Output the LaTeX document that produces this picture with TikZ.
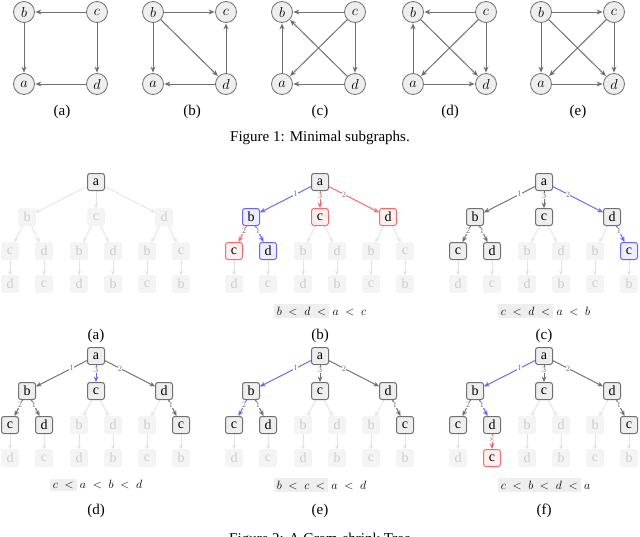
\documentclass[tikz,border=0pt]{standalone}
\usepackage{fontspec}
\setmainfont{Liberation Serif}
\usetikzlibrary{arrows.meta}
\definecolor{eg}{HTML}{707070}
\definecolor{fadf}{HTML}{F4F4F4}
\definecolor{fadd}{HTML}{EAEAEA}
\definecolor{fadt}{HTML}{CCCCCC}
\definecolor{fade}{HTML}{E2E2E2}
\definecolor{actf}{HTML}{EEEEEE}
\definecolor{bl}{HTML}{6666FF}
\definecolor{blf}{HTML}{EEEEFF}
\definecolor{rd}{HTML}{FF6666}
\definecolor{rdf}{HTML}{FFF0F0}
\definecolor{hlg}{HTML}{EEEEEE}
\tikzset{
 cnode/.style={circle,draw=eg,fill=actf,minimum size=21pt,inner sep=0,line width=0.8pt,font=\fontsize{14}{14}\selectfont},
 cedge/.style={draw=eg,line width=1pt,-{Stealth[length=6pt,width=5pt]},shorten >=0.5pt},
 tn/.style={rounded corners=2.5pt,minimum size=17pt,inner sep=0,font=\fontsize{14}{14}\selectfont},
 fad/.style={tn,fill=fadf,draw=fadd,text=fadt},
 act/.style={tn,fill=actf,draw=eg,line width=1pt},
 blu/.style={tn,fill=blf,draw=bl,line width=1pt},
 red/.style={tn,fill=rdf,draw=rd,line width=1pt},
 fe/.style={draw=fade,line width=0.8pt,-{Stealth[length=4.5pt,width=4pt]}},
 ae/.style={draw=eg,line width=0.9pt,-{Stealth[length=5.5pt,width=4.5pt]}},
 be/.style={ae,draw=bl},
 re/.style={ae,draw=rd},
 lab/.style={pos=0.3,fill=white,inner sep=0.3pt,font=\fontsize{8}{8}\selectfont,text=eg},
 captxt/.style={font=\fontsize{15}{17}\selectfont},
 ord/.style={font=\fontsize{13}{15}\selectfont},
}
\newcommand\ftree[3]{%
 \node[fad] (#1r) at (#2,#3) {a};
 \node[fad] (#1b) at (#2-69,#3+35) {b};
 \node[fad] (#1c) at (#2,#3+35) {c};
 \node[fad] (#1d) at (#2+68,#3+35) {d};
 \node[fad] (#1bc) at (#2-86,#3+69) {c};
 \node[fad] (#1bd) at (#2-52,#3+69) {d};
 \node[fad] (#1cb) at (#2-17,#3+69) {b};
 \node[fad] (#1cd) at (#2+17,#3+69) {d};
 \node[fad] (#1db) at (#2+51,#3+69) {b};
 \node[fad] (#1dc) at (#2+85,#3+69) {c};
 \node[fad] (#1bcd) at (#2-86,#3+102) {d};
 \node[fad] (#1bdc) at (#2-52,#3+102) {c};
 \node[fad] (#1cbd) at (#2-17,#3+102) {d};
 \node[fad] (#1cdb) at (#2+17,#3+102) {b};
 \node[fad] (#1dbc) at (#2+51,#3+102) {c};
 \node[fad] (#1dcb) at (#2+85,#3+102) {b};
 \foreach \s/\t in {r/b,r/c,r/d,b/bc,b/bd,c/cb,c/cd,d/db,d/dc,bc/bcd,bd/bdc,cb/cbd,cd/cdb,db/dbc,dc/dcb}
   {\draw[fe] (#1\s) -- (#1\t);}
}
\begin{document}
\begin{tikzpicture}[x=1pt,y=-1pt]
\useasboundingbox (0,0) rectangle (640,536);
% Figure 1
\foreach \p/\x in {A/24,B/153,C/282,D/413,E/541}{
 \node[cnode] (\p b) at (\x,12) {$b$};
 \node[cnode] (\p c) at (\x+73,12) {$c$};
 \node[cnode] (\p a) at (\x,84) {$a$};
 \node[cnode] (\p d) at (\x+73,84) {$d$};
}
\foreach \s/\t in {Ac/Ab,Ab/Aa,Ac/Ad,Ad/Aa,
 Bb/Bc,Bb/Ba,Bb/Bd,Bd/Bc,Bd/Ba,
 Cc/Cb,Ca/Cb,Cc/Cd,Cd/Ca,Cc/Ca,Cd/Cb,
 Dc/Db,Da/Db,Dc/Dd,Da/Dd,Dc/Da,Db/Dd,
 Eb/Ec,Eb/Ea,Ec/Ed,Ea/Ed,Ec/Ea,Eb/Ed}
 {\draw[cedge] (\s) -- (\t);}
\foreach \l/\x in {a/62,b/192,c/320,d/450,e/578}{\node[captxt] (l1\l) at (\x,112) {(\l)};}
\node[captxt] (f1) at (320,138) {Figure 1: Minimal subgraphs.};
% Figure 2 trees
\ftree{A}{96}{182}
\ftree{B}{320}{182}
\ftree{C}{544}{182}
\ftree{D}{96}{356}
\ftree{E}{320}{356}
\ftree{F}{544}{356}
% (a)
\node[act] (Ar) at (Ar) {a};
% (b)
\node[act] (Br) at (Br) {a};
\node[blu] (Bb) at (Bb) {b}; \node[red] (Bc) at (Bc) {c}; \node[red] (Bd) at (Bd) {d};
\node[red] (Bbc) at (Bbc) {c}; \node[blu] (Bbd) at (Bbd) {d};
\draw[be] (Br) -- node[lab]{1} (Bb);
\draw[re] (Br) -- node[lab]{3} (Bc);
\draw[re] (Br) -- node[lab]{2} (Bd);
\draw[re] (Bb) -- node[lab]{2} (Bbc);
\draw[be] (Bb) -- node[lab]{1} (Bbd);
% (c)
\node[act] (Cr) at (Cr) {a};
\node[act] (Cb) at (Cb) {b}; \node[act] (Cc) at (Cc) {c}; \node[act] (Cd) at (Cd) {d};
\node[act] (Cbc) at (Cbc) {c}; \node[act] (Cbd) at (Cbd) {d}; \node[blu] (Cdc) at (Cdc) {c};
\draw[ae] (Cr) -- node[lab]{1} (Cb);
\draw[ae] (Cr) -- node[lab]{3} (Cc);
\draw[be] (Cr) -- node[lab]{2} (Cd);
\draw[ae] (Cb) -- node[lab]{2} (Cbc);
\draw[ae] (Cb) -- node[lab]{1} (Cbd);
\draw[be] (Cd) -- node[lab]{1} (Cdc);
% (d)
\node[act] (Dr) at (Dr) {a};
\node[act] (Db) at (Db) {b}; \node[act] (Dc) at (Dc) {c}; \node[act] (Dd) at (Dd) {d};
\node[act] (Dbc) at (Dbc) {c}; \node[act] (Dbd) at (Dbd) {d}; \node[act] (Ddc) at (Ddc) {c};
\draw[ae] (Dr) -- node[lab]{1} (Db);
\draw[be] (Dr) -- node[lab]{3} (Dc);
\draw[ae] (Dr) -- node[lab]{2} (Dd);
\draw[ae] (Db) -- node[lab]{2} (Dbc);
\draw[ae] (Db) -- node[lab]{1} (Dbd);
\draw[ae] (Dd) -- node[lab]{1} (Ddc);
% (e)
\node[act] (Er) at (Er) {a};
\node[act] (Eb) at (Eb) {b}; \node[act] (Ec) at (Ec) {c}; \node[act] (Ed) at (Ed) {d};
\node[act] (Ebc) at (Ebc) {c}; \node[act] (Ebd) at (Ebd) {d}; \node[act] (Edc) at (Edc) {c};
\draw[be] (Er) -- node[lab]{1} (Eb);
\draw[ae] (Er) -- node[lab]{3} (Ec);
\draw[ae] (Er) -- node[lab]{2} (Ed);
\draw[be] (Eb) -- node[lab]{2} (Ebc);
\draw[ae] (Eb) -- node[lab]{1} (Ebd);
\draw[ae] (Ed) -- node[lab]{1} (Edc);
% (f)
\node[act] (Fr) at (Fr) {a};
\node[act] (Fb) at (Fb) {b}; \node[act] (Fc) at (Fc) {c}; \node[act] (Fd) at (Fd) {d};
\node[act] (Fbc) at (Fbc) {c}; \node[act] (Fbd) at (Fbd) {d}; \node[act] (Fdc) at (Fdc) {c};
\node[red] (Fbdc) at (Fbdc) {c};
\draw[be] (Fr) -- node[lab]{1} (Fb);
\draw[ae] (Fr) -- node[lab]{3} (Fc);
\draw[ae] (Fr) -- node[lab]{2} (Fd);
\draw[ae] (Fb) -- node[lab]{2} (Fbc);
\draw[be] (Fb) -- node[lab]{1} (Fbd);
\draw[ae] (Fd) -- node[lab]{1} (Fdc);
\draw[re] (Fbd) -- node[lab,pos=0.35]{$\times$} (Fbdc);
% orderings
\setlength\fboxsep{3pt}
\node[ord] (oB) at (320,311) {\colorbox{hlg}{$b\;<\;d\;<$}$\;a\;<\;c$};
\node[ord] (oC) at (544,311) {\colorbox{hlg}{$c\;<\;d\;<$}$\;a\;<\;b$};
\node[ord] (oD) at (96,485) {\colorbox{hlg}{$c\;<$}$\;a\;<\;b\;<\;d$};
\node[ord] (oE) at (320,485) {\colorbox{hlg}{$b\;<\;c\;<$}$\;a\;<\;d$};
\node[ord] (oF) at (544,485) {\colorbox{hlg}{$c\;<\;b\;<\;d\;<$}$\;a$};
\foreach \l/\x in {a/96,b/320,c/544}{\node[captxt] (l2\l) at (\x,336) {(\l)};}
\foreach \l/\x in {d/96,e/320,f/544}{\node[captxt] (l3\l) at (\x,511) {(\l)};}
\node[captxt] (f2) at (320,540) {Figure 2: A Gram-shrink Tree};
\end{tikzpicture}
\end{document}
